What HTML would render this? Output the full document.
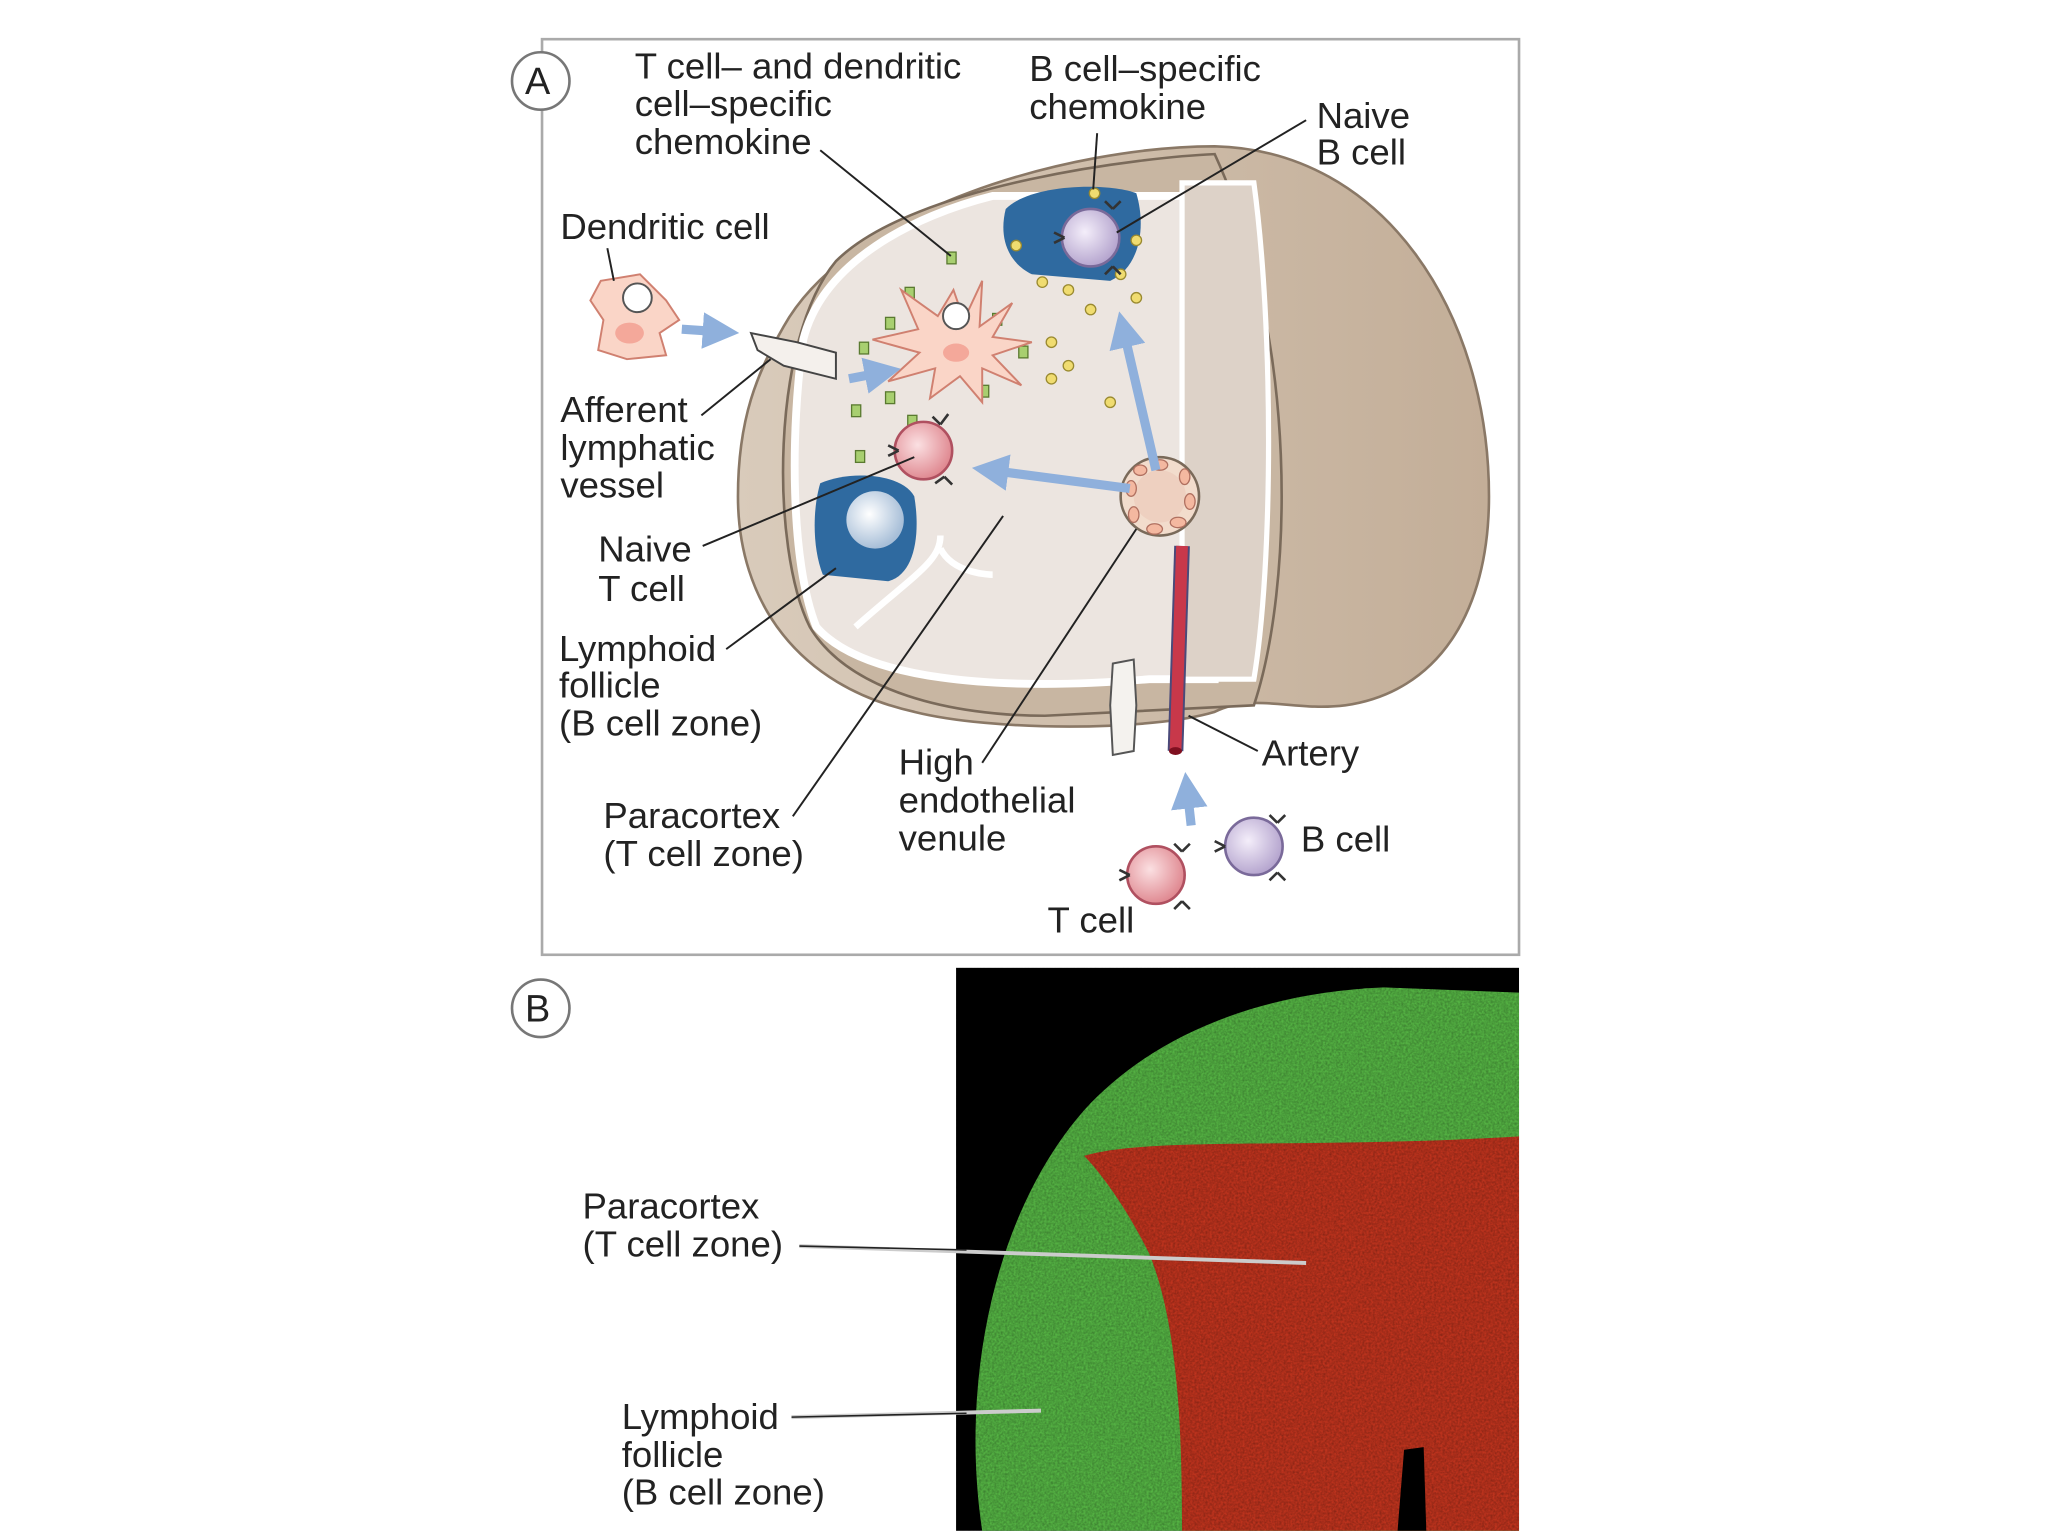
<!DOCTYPE html>
<html><head><meta charset="utf-8"><style>
html,body{margin:0;padding:0;background:#fff;}
svg{display:block;}
text{font-family:"Liberation Sans",sans-serif;font-size:28px;fill:#222;}
</style></head><body>
<svg width="2048" height="1536" viewBox="0 0 1568 1176" xmlns="http://www.w3.org/2000/svg">
<defs>
<filter id="noise" x="0" y="0" width="100%" height="100%">
<feTurbulence type="fractalNoise" baseFrequency="0.6" numOctaves="2" result="n"/>
<feColorMatrix in="n" type="matrix" values="0 0 0 0 0  0 0 0 0 0  0 0 0 0 0  0 0 0 -1.4 1.1" result="a"/>
<feComposite in="SourceGraphic" in2="a" operator="in"/>
</filter>
<marker id="ah" markerWidth="4" markerHeight="4" refX="2" refY="2" orient="auto" markerUnits="strokeWidth"><path d="M0,0 L4,2 L0,4 Z" fill="#8fb0dc"/></marker>
<radialGradient id="lav" cx="0.4" cy="0.4" r="0.6"><stop offset="0" stop-color="#f4eefa"/><stop offset="1" stop-color="#b6a6cf"/></radialGradient>
<radialGradient id="pnk" cx="0.4" cy="0.4" r="0.6"><stop offset="0" stop-color="#fbe0e2"/><stop offset="1" stop-color="#e08a92"/></radialGradient>
<radialGradient id="wht" cx="0.4" cy="0.4" r="0.6"><stop offset="0" stop-color="#ffffff"/><stop offset="1" stop-color="#a8bfd8"/></radialGradient>
<linearGradient id="side" x1="0" x2="1"><stop offset="0" stop-color="#d9cbbb"/><stop offset="1" stop-color="#c3ae98"/></linearGradient>
</defs>

<rect x="415" y="30" width="748" height="701" fill="#fff" stroke="#aaa" stroke-width="2"/>
<circle cx="414" cy="62" r="22" fill="#fff" stroke="#777" stroke-width="2"/>
<text x="402" y="72" style="font-size:29px">A</text>

<path d="M600,250 C650,160 820,112 930,112 C1060,115 1140,240 1140,380 C1140,470 1100,530 1030,540 C990,545 960,530 930,545 C880,560 760,560 700,545 C610,525 565,460 565,380 C565,320 580,285 600,250 Z" fill="url(#side)" stroke="#8a7866" stroke-width="2"/>
<path d="M930,118 C880,120 700,140 640,200 C590,260 590,420 620,480 C650,530 730,548 800,548 L960,540 C990,450 995,260 930,118 Z" fill="#c8b6a2" stroke="#7a6a5a" stroke-width="2"/>
<path d="M760,150 C700,165 630,200 615,260 C605,330 605,430 625,480 C660,520 760,530 880,520 L930,520 L930,150 Z" fill="#ece5e0" stroke="#fff" stroke-width="6"/>
<path d="M905,140 L960,140 C975,250 975,430 960,520 L905,520 Z" fill="#ddd2c8" stroke="#fff" stroke-width="4"/>
<path d="M655,480 C700,440 720,430 720,410 M720,420 C730,440 760,440 760,440" fill="none" stroke="#fff" stroke-width="5"/>

<path d="M770,160 C790,140 850,140 870,148 C878,175 872,205 850,215 L790,210 C770,200 765,180 770,160 Z" fill="#2f6aa0"/>
<circle cx="835" cy="182" r="22" fill="url(#lav)" stroke="#7a6a9a" stroke-width="2"/>
<path d="M628,370 C650,360 690,362 700,380 C705,410 700,440 680,445 L630,440 C622,420 622,390 628,370 Z" fill="#2f6aa0"/>
<circle cx="670" cy="398" r="22" fill="url(#wht)"/>

<g fill="#a8cf70" stroke="#5a7a30" stroke-width="1">
<rect x="725" y="193" width="7" height="9"/><rect x="693" y="220" width="7" height="9"/><rect x="678" y="243" width="7" height="9"/>
<rect x="658" y="262" width="7" height="9"/><rect x="760" y="240" width="7" height="9"/><rect x="780" y="265" width="7" height="9"/>
<rect x="652" y="310" width="7" height="9"/><rect x="678" y="300" width="7" height="9"/><rect x="695" y="318" width="7" height="9"/>
<rect x="655" y="345" width="7" height="9"/><rect x="750" y="295" width="7" height="9"/>
</g>
<g fill="#f0dc70" stroke="#9a8a30" stroke-width="1">
<circle cx="838" cy="148" r="4"/><circle cx="778" cy="188" r="4"/><circle cx="798" cy="216" r="4"/><circle cx="818" cy="222" r="4"/>
<circle cx="870" cy="184" r="4"/><circle cx="858" cy="210" r="4"/><circle cx="835" cy="237" r="4"/><circle cx="870" cy="228" r="4"/>
<circle cx="805" cy="262" r="4"/><circle cx="818" cy="280" r="4"/><circle cx="805" cy="290" r="4"/><circle cx="850" cy="308" r="4"/>
</g>

<path d="M730,222 L738,245 L752,215 L750,250 L775,232 L760,258 L790,262 L760,272 L782,295 L752,282 L752,308 L735,288 L712,305 L716,282 L680,292 L704,270 L668,260 L703,252 L690,222 L718,242 Z" fill="#fad5c7" stroke="#d08070" stroke-width="1.5"/>
<circle cx="732" cy="242" r="10" fill="#fff" stroke="#555" stroke-width="1.5"/>
<ellipse cx="732" cy="270" rx="10" ry="7" fill="#f4a89a"/>
<path d="M460,215 L490,210 L510,230 L520,245 L505,255 L510,272 L480,275 L458,268 L462,245 L452,230 Z" fill="#fad5c7" stroke="#d08070" stroke-width="1.5"/>
<circle cx="488" cy="228" r="11" fill="#fff" stroke="#555" stroke-width="1.5"/>
<ellipse cx="482" cy="255" rx="11" ry="8" fill="#f4a89a"/>

<path d="M575,255 L610,262 L640,270 L640,290 L600,280 L580,268 Z" fill="#f4f0ec" stroke="#444" stroke-width="1.5"/>

<circle cx="707" cy="345" r="22" fill="url(#pnk)" stroke="#b05060" stroke-width="2"/>
<circle cx="888" cy="380" r="30" fill="#f2dccc" stroke="#7a6a5a" stroke-width="2"/>
<circle cx="888" cy="380" r="20" fill="#eed0c0"/>
<g fill="#f4b8a0" stroke="#b07060" stroke-width="1">
<ellipse cx="888" cy="356" rx="6" ry="4"/><ellipse cx="907" cy="365" rx="4" ry="6"/><ellipse cx="911" cy="384" rx="4" ry="6"/><ellipse cx="902" cy="400" rx="6" ry="4"/>
<ellipse cx="884" cy="405" rx="6" ry="4"/><ellipse cx="868" cy="394" rx="4" ry="6"/><ellipse cx="866" cy="374" rx="4" ry="6"/><ellipse cx="873" cy="360" rx="5" ry="4"/>
</g>
<path d="M905,418 L900,575" stroke="#4a4a7a" stroke-width="12" fill="none"/>
<path d="M905,418 L900,575" stroke="#c8384a" stroke-width="9" fill="none"/>
<ellipse cx="900" cy="575" rx="5" ry="3" fill="#801020"/>
<path d="M852,508 L868,505 L870,540 L868,575 L852,578 L850,540 Z" fill="#f4f2ee" stroke="#555" stroke-width="1.5"/>

<g stroke="#8fb0dc" stroke-width="7" fill="none" marker-end="url(#ah)">
<line x1="522" y1="252" x2="552" y2="254"/>
<line x1="650" y1="290" x2="676" y2="285"/>
<line x1="865" y1="374" x2="758" y2="360"/>
<line x1="885" y1="360" x2="860" y2="252"/>
<line x1="912" y1="632" x2="909" y2="605"/>
</g>

<circle cx="885" cy="670" r="22" fill="url(#pnk)" stroke="#b05060" stroke-width="2"/>
<circle cx="960" cy="648" r="22" fill="url(#lav)" stroke="#7a6a9a" stroke-width="2"/>
<g stroke="#333" stroke-width="2" fill="none">
<path d="M720,325 l6,-8 m-6,8 l-6,-6"/><path d="M723,365 l6,6 m-6,-6 l-7,5"/><path d="M688,345 l-8,-4 m8,4 l-8,4"/>
<path d="M905,652 l6,-6 m-6,6 l-6,-6"/><path d="M905,690 l6,6 m-6,-6 l-6,6"/><path d="M865,670 l-8,-4 m8,4 l-8,4"/>
<path d="M938,648 l-8,-4 m8,4 l-8,4"/><path d="M978,630 l6,-6 m-6,6 l-6,-6"/><path d="M978,668 l6,6 m-6,-6 l-6,6"/>
<path d="M852,160 l6,-6 m-6,6 l-6,-6"/><path d="M815,182 l-8,-4 m8,4 l-8,4"/><path d="M852,204 l6,6 m-6,-6 l-6,6"/>
</g>

<g stroke="#222" stroke-width="1.5" fill="none">
<line x1="628" y1="115" x2="728" y2="196"/>
<line x1="840" y1="102" x2="837" y2="145"/>
<line x1="1000" y1="92" x2="855" y2="178"/>
<line x1="465" y1="190" x2="470" y2="215"/>
<line x1="537" y1="318" x2="590" y2="275"/>
<line x1="538" y1="418" x2="700" y2="350"/>
<line x1="556" y1="497" x2="640" y2="435"/>
<line x1="607" y1="625" x2="768" y2="395"/>
<line x1="752" y1="584" x2="870" y2="405"/>
<line x1="963" y1="575" x2="910" y2="548"/>
</g>

<text x="486" y="60">T cell– and dendritic</text>
<text x="486" y="89">cell–specific</text>
<text x="486" y="118">chemokine</text>
<text x="788" y="62">B cell–specific</text>
<text x="788" y="91">chemokine</text>
<text x="1008" y="98">Naive</text>
<text x="1008" y="126">B cell</text>
<text x="429" y="183">Dendritic cell</text>
<text x="429" y="323">Afferent</text>
<text x="429" y="352">lymphatic</text>
<text x="429" y="381">vessel</text>
<text x="458" y="430">Naive</text>
<text x="458" y="460">T cell</text>
<text x="428" y="506">Lymphoid</text>
<text x="428" y="534">follicle</text>
<text x="428" y="563">(B cell zone)</text>
<text x="462" y="634">Paracortex</text>
<text x="462" y="663">(T cell zone)</text>
<text x="688" y="593">High</text>
<text x="688" y="622">endothelial</text>
<text x="688" y="651">venule</text>
<text x="966" y="586">Artery</text>
<text x="996" y="652">B cell</text>
<text x="802" y="714">T cell</text>

<circle cx="414" cy="772" r="22" fill="#fff" stroke="#777" stroke-width="2"/>
<text x="402" y="782" style="font-size:29px">B</text>
<rect x="732" y="741" width="431" height="431" fill="#000"/>
<path d="M752,1172 C735,1060 760,930 830,850 C880,795 960,760 1060,756 L1163,760 L1163,1172 Z" fill="#55b444"/>
<path d="M905,1172 C905,1080 900,1010 880,960 C860,920 840,895 830,885 C880,870 1000,880 1163,870 L1163,1172 Z" fill="#c0341e"/>
<rect x="732" y="741" width="431" height="431" fill="#000" opacity="0.3" filter="url(#noise)"/>
<path d="M1070,1172 L1075,1110 L1090,1108 L1092,1172 Z" fill="#000"/>
<g stroke="#ccc" stroke-width="3">
<line x1="612" y1="954" x2="1000" y2="967"/>
<line x1="606" y1="1085" x2="797" y2="1080"/>
</g>
<g stroke="#222" stroke-width="1.2"><line x1="612" y1="954" x2="740" y2="957"/><line x1="606" y1="1085" x2="740" y2="1082"/></g>
<text x="446" y="933">Paracortex</text>
<text x="446" y="962">(T cell zone)</text>
<text x="476" y="1094">Lymphoid</text>
<text x="476" y="1123">follicle</text>
<text x="476" y="1152">(B cell zone)</text>
</svg>
</body></html>
